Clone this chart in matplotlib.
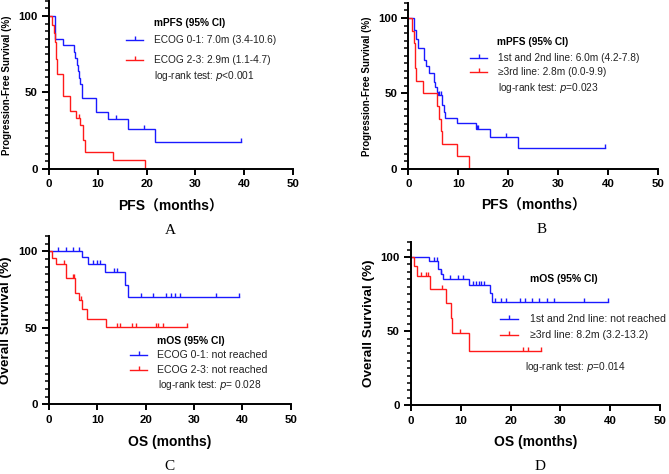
import numpy as np
import matplotlib
matplotlib.use("Agg")
import matplotlib.pyplot as plt
from matplotlib.ticker import MultipleLocator, FixedLocator

plt.rcParams['font.family'] = ['Liberation Sans', 'Noto Sans CJK SC', 'DejaVu Sans']

# ---------------- data ----------------
# Panel A: PFS by ECOG
a_blue_times = [1.2, 2.8, 5.1, 5.4, 5.7, 5.9, 6.1, 6.3, 6.8, 9.6, 12.0, 16.2, 21.7]
a_blue_surv = [84.7, 80.8, 76.6, 72.3, 68.1, 63.8, 59.6, 55.3, 46.4, 37.1, 32.5, 26.0, 17.4]
a_blue_cens = [13.8, 19.4, 39.3]
a_red_times = [0.6, 1.0, 1.2, 1.4, 1.6, 2.8, 4.3, 5.6, 6.4, 6.9, 7.3, 13.2, 19.6]
a_red_surv = [94.4, 88.9, 83.3, 72.2, 61.9, 47.9, 38.1, 33.3, 28.6, 19.0, 11.4, 5.7, 0.0]
a_red_cens = [6.2]

# Panel B: PFS by treatment line
b_blue_times = [1.2, 1.5, 1.9, 3.2, 3.5, 4.2, 5.1, 5.4, 5.7, 5.9, 6.8, 7.1, 7.3, 9.8, 13.5, 16.4, 21.9]
b_blue_surv = [92.0, 86.0, 80.0, 72.0, 68.0, 63.5, 57.5, 54.0, 51.0, 49.0, 42.5, 38.0, 33.6, 30.2, 26.3, 21.0, 13.8]
b_blue_cens = [6.2, 6.5, 13.8, 14.0, 19.6, 39.3]
b_red_times = [0.7, 1.1, 1.3, 1.4, 1.55, 3.0, 5.8, 6.1, 6.5, 6.7, 9.7, 12.2]
b_red_surv = [91.7, 83.3, 75.0, 66.7, 58.3, 50.0, 41.7, 33.3, 25.0, 16.7, 8.3, 0.0]
b_red_cens = []

# Panel C: OS by ECOG
c_blue_times = [6.9, 8.1, 11.6, 15.7, 16.4]
c_blue_surv = [96.3, 91.9, 86.2, 77.8, 69.9]
c_blue_cens = [1.9, 3.5, 5.0, 6.2, 9.2, 9.9, 10.6, 13.5, 14.1, 19.1, 21.6, 24.2, 25.2,
               26.0, 27.1, 34.6, 39.3]
c_red_times = [0.6, 1.4, 3.5, 5.3, 6.3, 6.9, 7.9, 11.8]
c_red_surv = [95.5, 91.7, 82.8, 72.7, 68.0, 62.5, 56.0, 50.6]
c_red_cens = [3.1, 4.9, 5.2, 6.6, 14.1, 14.6, 17.2, 18.0, 22.1, 22.5, 23.5, 28.6]

# Panel D: OS by treatment line
d_blue_times = [3.7, 5.5, 6.0, 6.5, 11.6, 15.8, 16.3]
d_blue_surv = [97.5, 92.2, 88.8, 85.5, 81.4, 75.7, 70.0]
d_blue_cens = [4.7, 5.2, 6.1, 7.8, 9.5, 10.5, 12.5, 13.0, 13.7, 14.1, 14.6, 16.9, 18.0,
               19.0, 21.9, 22.9, 24.4, 25.7, 27.4, 28.8, 34.8, 39.5]
d_red_times = [0.6, 1.3, 3.8, 7.0, 8.0, 8.2, 11.6]
d_red_surv = [93.8, 87.5, 78.7, 68.9, 59.0, 48.8, 36.6]
d_red_cens = [2.1, 3.0, 3.5, 6.3, 9.8, 22.4, 23.5, 26.2]

x_ticks = [0, 10, 20, 30, 40, 50]
y_ticks = [0, 50, 100]

BLUE = '#1a1aff'
RED = '#ff1a1a'
MS = 3.2


def km(ax, times, surv, cens, color):
    end = max([times[-1]] + list(cens))
    xs = [0] + list(times) + [end]
    ys = [100] + list(surv) + [surv[-1]]
    if surv[-1] == 0:
        xs = xs[:-1]
        ys = ys[:-1]
    ax.step(xs, ys, where='post', color=color, lw=1.0, solid_joinstyle='miter')
    if cens:
        t = np.array([0] + list(times))
        s = np.array([100] + list(surv))
        cy = [s[np.searchsorted(t, c, side='right') - 1] for c in cens]
        ax.plot(cens, cy, linestyle='none', marker=2, markersize=MS,
                mew=1.0, color=color)


def setup(ax, xlabel, ylabel, ylsize, ylx):
    ax.set_xlim(0, 50)
    ax.set_ylim(0, 110)
    for s in ['top', 'right']:
        ax.spines[s].set_visible(False)
    for s in ['left', 'bottom']:
        ax.spines[s].set_linewidth(1.4)
    ax.xaxis.set_major_locator(FixedLocator(x_ticks))
    ax.yaxis.set_major_locator(FixedLocator(y_ticks))
    ax.yaxis.set_minor_locator(MultipleLocator(5))
    ax.tick_params(axis='x', which='major', length=4.5, width=1.4, pad=3,
                   labelsize=8.2)
    ax.tick_params(axis='y', which='major', length=5, width=1.4, pad=3,
                   labelsize=8.2)
    ax.tick_params(axis='y', which='minor', length=3, width=1.1)
    for lab in ax.get_xticklabels() + ax.get_yticklabels():
        lab.set_fontweight('bold')
    ax.set_xlabel(xlabel, fontsize=10, fontweight='bold')
    ax.xaxis.set_label_coords(0.5, -0.18)
    ax.set_ylabel(ylabel, fontsize=ylsize, fontweight='bold')
    ax.yaxis.set_label_coords(ylx, 0.5)


def legend_entry(ax, x0, x1, y, color, text, tx, fs):
    ax.plot([x0, x1], [y, y], color=color, lw=1.0, clip_on=False)
    ax.plot([(x0 + x1) / 2], [y], marker=2, markersize=MS, mew=1.0,
            color=color, clip_on=False)
    ax.text(tx, y, text, fontsize=fs, va='center', ha='left', color='#222222')


fig = plt.figure(figsize=(6.69, 4.74), dpi=100)

axA = fig.add_axes([0.0732, 0.6435, 0.3648, 0.355])
axB = fig.add_axes([0.6103, 0.6435, 0.3733, 0.3504])
axC = fig.add_axes([0.0732, 0.147, 0.3613, 0.355])
axD = fig.add_axes([0.6143, 0.145, 0.3722, 0.344])

# Panel A
km(axA, a_blue_times, a_blue_surv, a_blue_cens, BLUE)
km(axA, a_red_times, a_red_surv, a_red_cens, RED)
setup(axA, 'PFS（months）', 'Progression-Free Survival (%)', 7.0, -0.152)
axA.text(21.5, 95.4, 'mPFS (95% CI)', fontsize=7.3, fontweight='bold', va='center')
legend_entry(axA, 15.8, 19.3, 84.3, BLUE, 'ECOG 0-1: 7.0m (3.4-10.6)', 21.5, 7.3)
legend_entry(axA, 15.8, 19.3, 71.2, RED, 'ECOG 2-3: 2.9m (1.1-4.7)', 21.5, 7.3)
axA.text(21.5, 60.8, 'log-rank test: $\\it{p}$<0.001', fontsize=7.3, va='center',
         color='#222222')

# Panel B
km(axB, b_blue_times, b_blue_surv, b_blue_cens, BLUE)
km(axB, b_red_times, b_red_surv, b_red_cens, RED)
setup(axB, 'PFS（months）', 'Progression-Free Survival (%)', 7.0, -0.147)
axB.text(17.8, 84.0, 'mPFS (95% CI)', fontsize=7.3, fontweight='bold', va='center')
legend_entry(axB, 12.4, 15.8, 73.5, BLUE, '1st and 2nd line: 6.0m (4.2-7.8)', 18.0, 7.3)
legend_entry(axB, 12.4, 15.8, 64.2, RED, '≥3rd line: 2.8m (0.0-9.9)', 18.0, 7.3)
axB.text(18.0, 53.6, 'log-rank test: $\\it{p}$=0.023', fontsize=7.3, va='center',
         color='#222222')

# Panel C
km(axC, c_blue_times, c_blue_surv, c_blue_cens, BLUE)
km(axC, c_red_times, c_red_surv, c_red_cens, RED)
setup(axC, 'OS (months)', 'Overall Survival (%)', 9.7, -0.152)
axC.text(22.4, 41.4, 'mOS (95% CI)', fontsize=7.5, fontweight='bold', va='center')
legend_entry(axC, 16.8, 20.3, 32.2, BLUE, 'ECOG 0-1: not reached', 22.4, 7.6)
legend_entry(axC, 16.8, 20.3, 22.4, RED, 'ECOG 2-3: not reached', 22.4, 7.6)
axC.text(22.6, 12.6, 'log-rank test: $\\it{p}$= 0.028', fontsize=7.3, va='center',
         color='#222222')

# Panel D
km(axD, d_blue_times, d_blue_surv, d_blue_cens, BLUE)
km(axD, d_red_times, d_red_surv, d_red_cens, RED)
setup(axD, 'OS (months)', 'Overall Survival (%)', 9.7, -0.145)
axD.text(23.9, 85.3, 'mOS (95% CI)', fontsize=7.5, fontweight='bold', va='center')
legend_entry(axD, 17.9, 21.5, 58.3, BLUE, '1st and 2nd line: not reached', 23.9, 7.6)
legend_entry(axD, 17.9, 21.5, 47.6, RED, '≥3rd line: 8.2m (3.2-13.2)', 23.9, 7.6)
axD.text(22.9, 25.9, 'log-rank test: $\\it{p}$=0.014', fontsize=7.3, va='center',
         color='#222222')

# Panel letters
for lbl, (fx, fy) in zip(['A', 'B', 'C', 'D'],
                         [(0.254, 0.513), (0.81, 0.515), (0.254, 0.0148), (0.807, 0.0148)]):
    fig.text(fx, fy, lbl, fontsize=11, family='Liberation Serif', ha='center', va='center')

fig.savefig('out.png', dpi=100)
